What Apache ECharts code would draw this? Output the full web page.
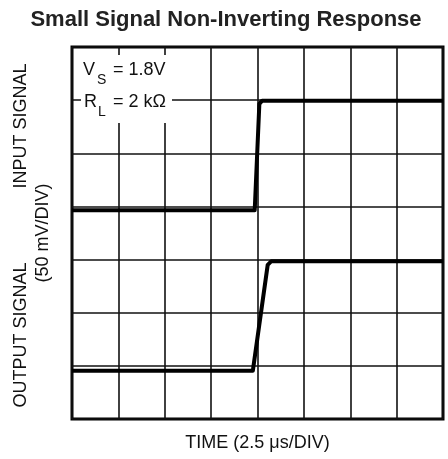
<!DOCTYPE html>
<html>
<head>
<meta charset="utf-8">
<script src="https://cdn.jsdelivr.net/npm/echarts@6/dist/echarts.min.js"></script>
<style>
  html, body { margin: 0; padding: 0; background: #fff; }
  #main { width: 448px; height: 459px; }
</style>
</head>
<body>
<div id="main"></div>
<script>
// time in divisions (2.5 us/DIV), level in divisions (50 mV/DIV)
const inputTime = [0, 3.94, 4.04, 4.1, 8];
const inputLevel = [3.93, 3.93, 5.93, 5.99, 5.99];
const outputTime = [0, 3.9, 4.22, 4.3, 8];
const outputLevel = [0.91, 0.91, 2.9, 2.97, 2.97];

const FONT = '"Liberation Sans", Arial, Helvetica, sans-serif';

function pairs(xs, ys) {
  return xs.map((x, i) => [x, ys[i]]);
}

const dom = document.getElementById('main');
const myChart = echarts.init(dom);

function txt(x, y, text, size, rot) {
  return {
    type: 'text',
    x: x,
    y: y,
    z: 101,
    rotation: rot || 0,
    style: {
      text: text,
      fontFamily: FONT,
      fontSize: size,
      fill: '#111',
      align: rot ? 'center' : 'left',
      verticalAlign: 'middle'
    }
  };
}

myChart.setOption({
  animation: false,
  grid: {
    left: 72,
    right: 5,
    top: 47,
    bottom: 40,
    show: true,
    borderColor: '#000',
    borderWidth: 3,
    backgroundColor: 'transparent'
  },
  xAxis: {
    type: 'value',
    min: 0,
    max: 8,
    interval: 1,
    name: 'TIME (2.5 μs/DIV)',
    nameLocation: 'middle',
    nameGap: 15,
    nameTextStyle: { fontFamily: FONT, fontSize: 18, color: '#111' },
    axisLine: { show: false },
    axisTick: { show: false },
    axisLabel: { show: false },
    splitLine: { show: true, lineStyle: { color: '#111', width: 1.6 } }
  },
  yAxis: {
    type: 'value',
    min: 0,
    max: 7,
    interval: 1,
    axisLine: { show: false },
    axisTick: { show: false },
    axisLabel: { show: false },
    splitLine: { show: true, lineStyle: { color: '#111', width: 1.6 } }
  },
  graphic: [
    {
      type: 'text',
      x: 226,
      y: 20,
      style: {
        text: 'Small Signal Non-Inverting Response',
        fontFamily: FONT,
        fontSize: 22,
        fontWeight: 'bold',
        fill: '#222',
        align: 'center',
        verticalAlign: 'middle'
      }
    },
    txt(21, 126, 'INPUT SIGNAL', 18, Math.PI / 2),
    txt(43, 233, '(50 mV/DIV)', 18, Math.PI / 2),
    txt(21, 335, 'OUTPUT SIGNAL', 18, Math.PI / 2),
    // white box behind the test conditions
    {
      type: 'rect',
      z: 100,
      shape: { x: 81, y: 55, width: 91, height: 68 },
      style: { fill: '#fff' }
    },
    txt(83, 70, 'V', 18),
    txt(97, 80, 'S', 14),
    txt(113, 70, '= 1.8V', 18),
    txt(84, 102, 'R', 18),
    txt(98, 112, 'L', 14),
    txt(113, 102, '= 2 kΩ', 18)
  ],
  series: [
    {
      name: 'Input',
      type: 'line',
      data: pairs(inputTime, inputLevel),
      showSymbol: false,
      z: 5,
      lineStyle: { color: '#000', width: 4, join: 'round' }
    },
    {
      name: 'Output',
      type: 'line',
      data: pairs(outputTime, outputLevel),
      showSymbol: false,
      z: 5,
      lineStyle: { color: '#000', width: 4, join: 'round' }
    }
  ]
});
</script>
</body>
</html>
